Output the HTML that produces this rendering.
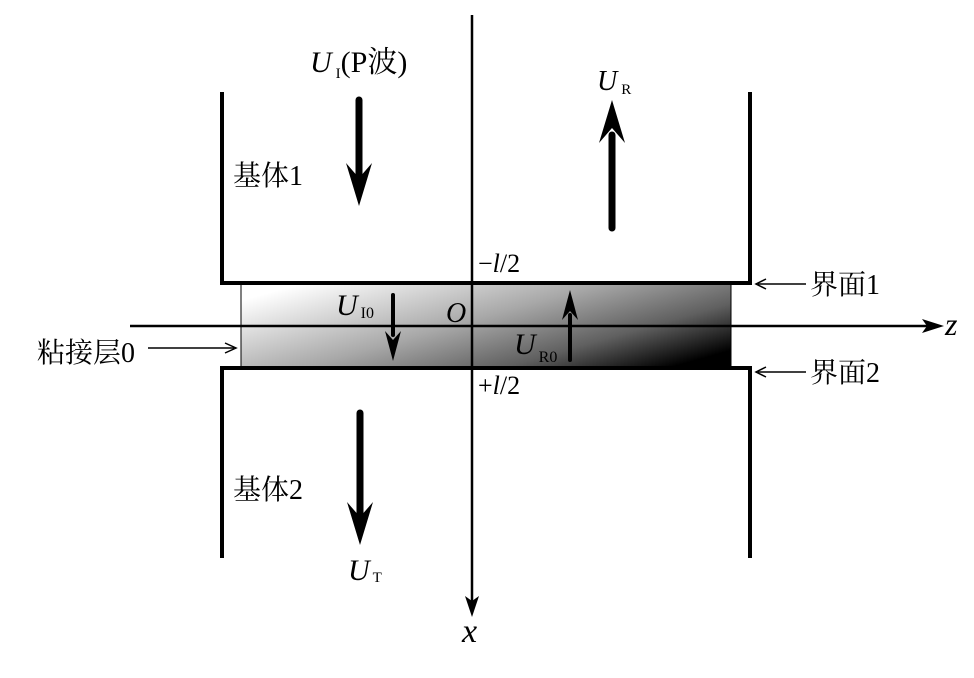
<!DOCTYPE html>
<html><head><meta charset="utf-8"><style>
html,body{margin:0;padding:0;background:#fff;}
svg{display:block;}
text{font-family:"Liberation Serif","Noto Serif CJK SC",serif;fill:#000;}
.i{font-style:italic;}
</style></head><body>
<svg width="974" height="678" viewBox="0 0 974 678" xmlns="http://www.w3.org/2000/svg">
<defs>
<linearGradient id="g" x1="0" y1="0.2" x2="1" y2="0.8">
<stop offset="0" stop-color="#ffffff"/>
<stop offset="0.45" stop-color="#a8a8a8"/>
<stop offset="0.75" stop-color="#606060"/>
<stop offset="1" stop-color="#000000"/>
</linearGradient>
</defs>
<rect x="241" y="284" width="490" height="83" fill="url(#g)" stroke="#000" stroke-width="1"/>
<g fill="none" stroke="#000" stroke-width="4">
<polyline points="222,92 222,283 750,283 750,92"/>
<polyline points="222,558 222,368 750,368 750,558"/>
</g>
<g stroke="#000" stroke-width="2.5">
<line x1="472" y1="15" x2="472" y2="610"/>
<line x1="130" y1="326" x2="935" y2="326"/>
</g>
<polygon points="472,617 465,596 472,601 479,596" fill="#000"/>
<polygon points="944,326 922,319 927,326 922,333" fill="#000"/>
<g stroke="#000" stroke-width="7" stroke-linecap="round">
<line x1="359" y1="100" x2="359" y2="175"/>
<line x1="612" y1="228" x2="612" y2="135"/>
<line x1="360" y1="413" x2="360" y2="515"/>
</g>
<polygon points="359,206 346,163 359,178 372,163" fill="#000"/>
<polygon points="612,100 599,143 612,128 625,143" fill="#000"/>
<polygon points="360,545 347,502 360,517 373,502" fill="#000"/>
<g stroke="#000" stroke-width="4" stroke-linecap="round">
<line x1="393" y1="295" x2="393" y2="335"/>
<line x1="570" y1="360" x2="570" y2="315"/>
</g>
<polygon points="393,361 385,331 393,340 401,331" fill="#000"/>
<polygon points="570,290 562,320 570,311 578,320" fill="#000"/>
<g stroke="#000" stroke-width="1.5">
<line x1="758" y1="284" x2="806" y2="284"/>
<line x1="758" y1="372" x2="806" y2="372"/>
<line x1="148" y1="348" x2="234" y2="348"/>
</g>
<polyline points="766,279 756,284 766,289" fill="none" stroke="#000" stroke-width="1.5"/>
<polyline points="766,367 756,372 766,377" fill="none" stroke="#000" stroke-width="1.5"/>
<polyline points="225,343 236,348 225,353" fill="none" stroke="#000" stroke-width="1.5"/>
<text x="310" y="72" font-size="30"><tspan class="i">U</tspan><tspan font-size="15" dx="4" dy="6">I</tspan><tspan dy="-6">(P波)</tspan></text>
<text x="597" y="90" font-size="28"><tspan class="i">U</tspan><tspan font-size="15" dx="4" dy="4">R</tspan></text>
<text x="233" y="185" font-size="28">基体1</text>
<text x="233" y="499" font-size="28">基体2</text>
<text x="478" y="272" font-size="26">−<tspan class="i">l</tspan>/2</text>
<text x="478" y="394" font-size="26">+<tspan class="i">l</tspan>/2</text>
<text x="810" y="294" font-size="28">界面1</text>
<text x="810" y="382" font-size="28">界面2</text>
<text x="37" y="362" font-size="28">粘接层0</text>
<text x="446" y="322" font-size="28" class="i">O</text>
<text x="336" y="315" font-size="30"><tspan class="i">U</tspan><tspan font-size="16" dx="3" dy="3">I0</tspan></text>
<text x="514" y="354" font-size="30"><tspan class="i">U</tspan><tspan font-size="16" dx="3" dy="8">R0</tspan></text>
<text x="348" y="580" font-size="30"><tspan class="i">U</tspan><tspan font-size="15" dx="3" dy="2">T</tspan></text>
<text x="462" y="642" font-size="34" class="i">x</text>
<text x="945" y="335" font-size="32" class="i">z</text>
</svg>
</body></html>
